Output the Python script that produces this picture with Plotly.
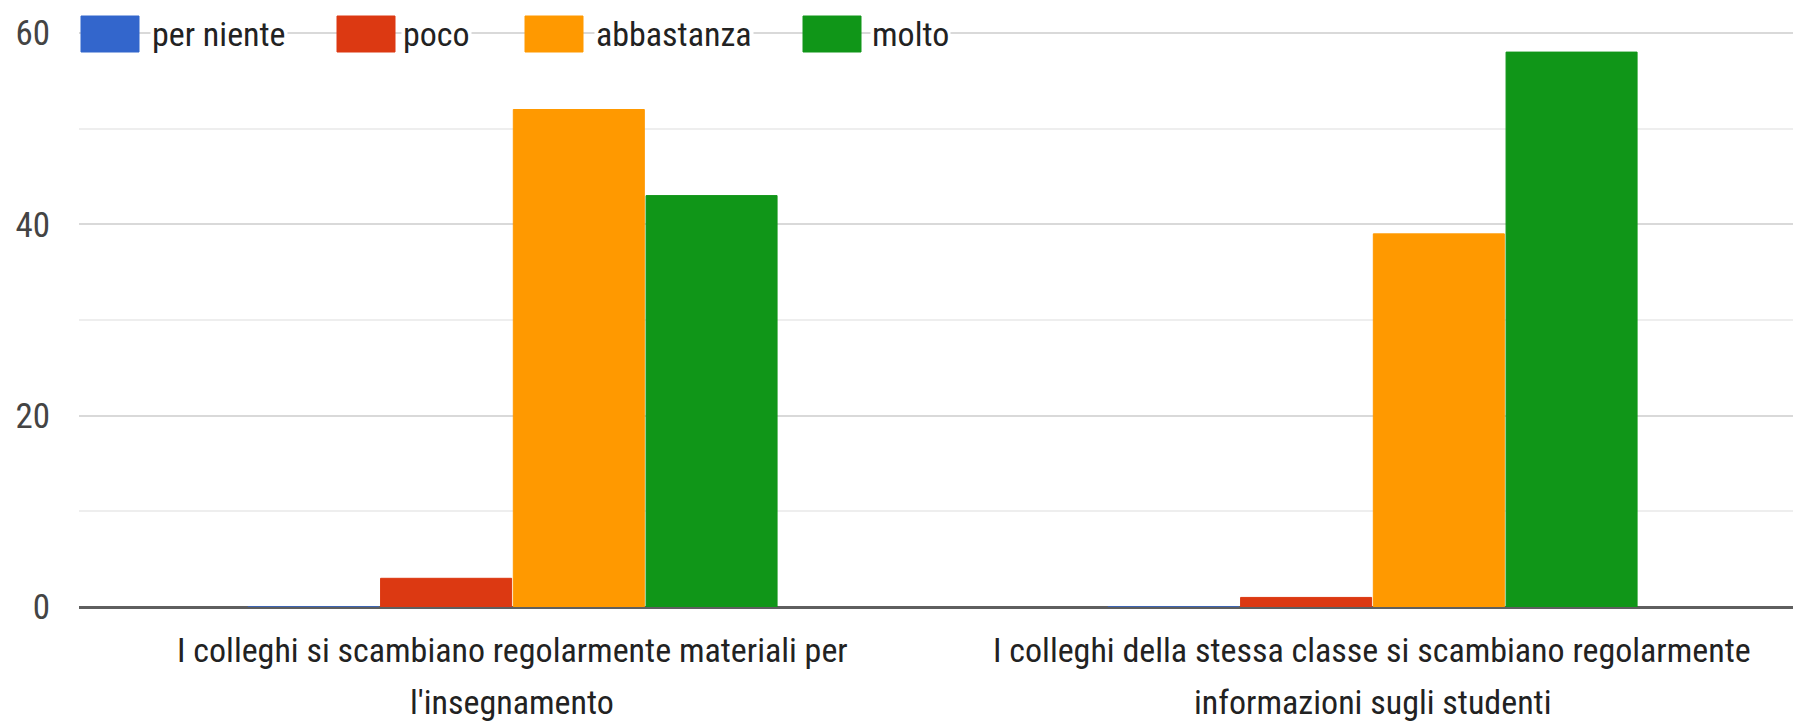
import plotly.graph_objects as go

categories = [
    "I colleghi si scambiano regolarmente materiali per l'insegnamento",
    "I colleghi della stessa classe si scambiano regolarmente informazioni sugli studenti",
]
label_lines = [
    ["I colleghi si scambiano regolarmente materiali per", "l'insegnamento"],
    ["I colleghi della stessa classe si scambiano regolarmente", "informazioni sugli studenti"],
]
series_names = ["per niente", "poco", "abbastanza", "molto"]
per_niente = [0, 0]
poco = [3, 1]
abbastanza = [52, 39]
molto = [43, 58]
colors = ["#3366CC", "#DC3912", "#FF9900", "#109618"]
y_ticks = [0, 20, 40, 60]

FONT = "Roboto Condensed, Liberation Sans Narrow, Arial Narrow, Roboto, Liberation Sans, sans-serif"

W, H = 1793, 723
L, R, T, B = 79, 0, 32, 116
PW, PH = W - L - R, H - T - B


def px_x(px):
    return (px - L) / PW


def px_y(py):
    return (H - B - py) / PH


fig = go.Figure()
for name, vals, col in zip(series_names, [per_niente, poco, abbastanza, molto], colors):
    fig.add_trace(go.Bar(
        name=name, x=[0, 1], y=vals,
        marker=dict(color=col, line=dict(color=col, width=1)),
        showlegend=False,
    ))

# top gridline (plotly hides the grid line lying on the plot edge)
fig.add_shape(type="line", xref="paper", yref="y", x0=0, x1=1,
              y0=y_ticks[-1], y1=y_ticks[-1],
              line=dict(color="#d9d9d9", width=2), layer="below")

# custom legend (large swatches like the original)
legend_pos = [(81, 153), (337, 404), (525, 597), (803, 873)]
for (sx, tx), name, col in zip(legend_pos, series_names, colors):
    fig.add_shape(type="rect", xref="paper", yref="paper",
                  x0=px_x(sx), x1=px_x(sx + 58), y0=px_y(52), y1=px_y(16),
                  fillcolor=col, line=dict(color=col, width=1), layer="above")
    fig.add_annotation(xref="paper", yref="paper", x=px_x(tx - 3), y=px_y(34),
                       xanchor="left", yanchor="middle", text=name, showarrow=False,
                       font=dict(family=FONT, size=34, color="#222222"),
                       bgcolor="white", borderpad=1)

# two-line category labels
for i, lines in enumerate(label_lines):
    for text, py in zip(lines, [650, 702]):
        fig.add_annotation(xref="x", yref="paper", x=i, y=px_y(py),
                           xanchor="center", yanchor="middle", text=text,
                           showarrow=False,
                           font=dict(family=FONT, size=34, color="#222222"))

fig.update_layout(
    width=W, height=H,
    margin=dict(l=L, r=R, t=T, b=B),
    paper_bgcolor="white", plot_bgcolor="white",
    barmode="group", bargap=0.3826, bargroupgap=0.013,
    font=dict(family=FONT, size=34, color="#444444"),
)
fig.update_xaxes(
    range=[-0.504, 1.489],
    showticklabels=False, showgrid=False, ticks="", showline=False,
    zeroline=False,
)
fig.update_yaxes(
    range=[0, 60.1], tickvals=y_ticks,
    tickfont=dict(family=FONT, size=35, color="#444444"),
    showgrid=True, gridcolor="#d9d9d9", gridwidth=2,
    minor=dict(dtick=10, showgrid=True, gridcolor="#eeeeee", gridwidth=2),
    zeroline=True, zerolinecolor="#5f5f5f", zerolinewidth=3,
    ticks="", ticklabelstandoff=28, showline=False,
)

fig.write_html(
    "out.html",
    config={"displayModeBar": False},
    post_script="document.body.style.margin='0';document.body.style.padding='0';"
                "document.body.style.overflow='hidden';",
)
